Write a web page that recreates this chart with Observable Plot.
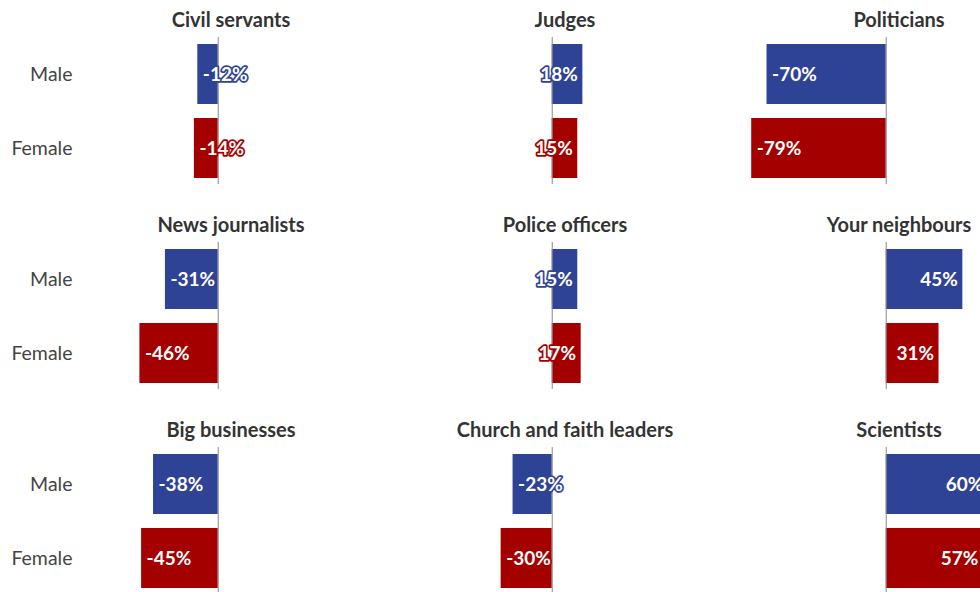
<!DOCTYPE html>
<html>
<head>
<meta charset="utf-8">
<script src="https://cdn.jsdelivr.net/npm/d3@7"></script>
<script src="https://cdn.jsdelivr.net/npm/@observablehq/plot@0.6"></script>
<style>
  html, body { margin: 0; padding: 0; background: #fff; overflow: hidden; }
  #chart { width: 1056px; }
  svg { font-family: Lato, "Open Sans", sans-serif; }
</style>
</head>
<body>
<div id="chart"></div>
<script>
const institutions = [
  "Civil servants", "Judges", "Politicians",
  "News journalists", "Police officers", "Your neighbours",
  "Big businesses", "Church and faith leaders", "Scientists"
];
const genders = ["Male", "Female"];
const maleValues = [-12, 18, -70, -31, 15, 45, -38, -23, 60];
const femaleValues = [-14, 15, -79, -46, 17, 31, -45, -30, 57];
const colors = ["#2f4396", "#a40000"];

const titles = institutions.map((name, i) => ({name, col: i % 3, row: Math.floor(i / 3)}));
const rows = [];
institutions.forEach((name, i) => {
  rows.push({name, col: i % 3, row: Math.floor(i / 3), gender: "Male", value: maleValues[i]});
  rows.push({name, col: i % 3, row: Math.floor(i / 3), gender: "Female", value: femaleValues[i]});
});

const chart = Plot.plot({
  width: 1056,
  height: 598,
  marginTop: 36,
  marginBottom: 4,
  marginLeft: 73,
  marginRight: 0,
  style: {fontFamily: "Lato, 'Open Sans', sans-serif"},
  fx: {axis: null, domain: [0, 1, 2], paddingInner: 0.058, paddingOuter: 0},
  fy: {axis: null, domain: [0, 1, 2], paddingInner: 0.285, paddingOuter: 0},
  x: {domain: [-85, 100], axis: null},
  y: {domain: genders, paddingInner: 0.19, paddingOuter: 0.08, label: null},
  color: {domain: genders, range: colors},
  marks: [
    Plot.barX(rows, {fx: "col", fy: "row", x1: () => 0, x2: "value", y: "gender", fill: "gender"}),
    Plot.ruleX([0], {stroke: "#8a8a8a", strokeWidth: 1}),
    Plot.text(rows.filter(d => d.value < 0), {
      fx: "col", fy: "row", x: "value", y: "gender",
      text: d => `${d.value}%`, textAnchor: "start", dx: 5,
      fill: "white", stroke: "gender", strokeWidth: 3.5,
      fontSize: 19, fontWeight: "bold"
    }),
    Plot.text(rows.filter(d => d.value >= 0), {
      fx: "col", fy: "row", x: "value", y: "gender",
      text: d => `${d.value}%`, textAnchor: "end", dx: -5,
      fill: "white", stroke: "gender", strokeWidth: 3.5,
      fontSize: 19, fontWeight: "bold"
    }),
    Plot.text(titles, {
      fx: "col", fy: "row", text: "name", frameAnchor: "top", lineAnchor: "middle", dy: -17,
      fill: "#333", fontSize: 20, fontWeight: "bold"
    }),
    Plot.axisY({tickSize: 0, tickPadding: 1, fontSize: 19.5, color: "#444", label: null})
  ]
});
document.getElementById("chart").appendChild(chart);
</script>
</body>
</html>
